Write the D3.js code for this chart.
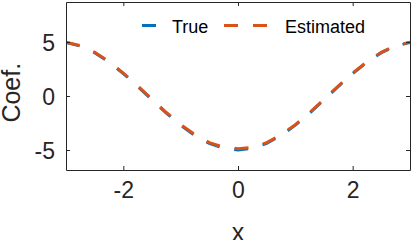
<!DOCTYPE html>
<html>
<head>
<meta charset="utf-8">
<script src="https://cdn.jsdelivr.net/npm/d3@7"></script>
<style>
  body { margin: 0; background: #fff; }
  svg { display: block; font-family: "Liberation Sans", Arial, sans-serif; }
</style>
</head>
<body>
<svg id="chart" width="415" height="240"></svg>
<script>
// data
var xVals = [-3, -2.75, -2.5, -2.25, -2, -1.75, -1.5, -1.25, -1, -0.75, -0.5, -0.25, 0,
             0.25, 0.5, 0.75, 1, 1.25, 1.5, 1.75, 2, 2.25, 2.5, 2.75, 3];
var trueVals = [4.95, 4.62, 4.01, 3.14, 2.08, 0.89, -0.35, -1.58, -2.70, -3.66, -4.39, -4.84, -5.0,
                -4.84, -4.39, -3.66, -2.70, -1.58, -0.35, 0.89, 2.08, 3.14, 4.01, 4.62, 4.95];
var estVals = [4.97, 4.66, 4.05, 3.18, 2.12, 0.93, -0.30, -1.53, -2.64, -3.59, -4.31, -4.74, -4.88,
               -4.75, -4.32, -3.60, -2.65, -1.54, -0.31, 0.92, 2.11, 3.17, 4.04, 4.65, 4.97];
var xTicks = [-2, 0, 2];
var yTicks = [-5, 0, 5];
var seriesNames = ["True", "Estimated"];
var seriesColors = ["#0072BD", "#D95319"];

var width = 415, height = 240,
    margins = {left: 66, right: 5, top: 2, bottom: 70};

var svg = d3.select("#chart");
var plotW = width - margins.left - margins.right,
    plotH = height - margins.top - margins.bottom;

var xScale = d3.scaleLinear().domain([-3, 3]).range([0, plotW]);
var yScale = d3.scaleLinear().domain([-6.85, 8.7]).range([plotH, 0]);

var g = svg.append("g")
    .attr("transform", "translate(" + margins.left + "," + margins.top + ")");

var line = d3.line()
    .x(d => xScale(d[0]))
    .y(d => yScale(d[1]));

svg.append("clipPath").attr("id", "plotClip")
    .append("rect").attr("width", plotW).attr("height", plotH);

var curves = g.append("g").attr("clip-path", "url(#plotClip)");

curves.append("path")
    .attr("fill", "none")
    .attr("stroke", seriesColors[0])
    .attr("stroke-width", 3)
    .attr("stroke-dasharray", "14,15")
    .attr("d", line(xVals.map((x, i) => [x, trueVals[i]])));

curves.append("path")
    .attr("fill", "none")
    .attr("stroke", seriesColors[1])
    .attr("stroke-width", 3)
    .attr("stroke-dasharray", "14,15")
    .attr("d", line(xVals.map((x, i) => [x, estVals[i]])));

// axes, matlab box style with inward ticks
var axisColor = "#262626";
var fmt = d => String(d);
var axes = [
    g.append("g").call(d3.axisBottom(xScale).tickValues(xTicks).tickSizeInner(-4).tickSizeOuter(0).tickFormat(fmt))
        .attr("transform", "translate(0," + plotH + ")"),
    g.append("g").call(d3.axisTop(xScale).tickValues(xTicks).tickSizeInner(-4).tickSizeOuter(0).tickFormat("")),
    g.append("g").call(d3.axisLeft(yScale).tickValues(yTicks).tickSizeInner(-4).tickSizeOuter(0).tickFormat(fmt)),
    g.append("g").call(d3.axisRight(yScale).tickValues(yTicks).tickSizeInner(-4).tickSizeOuter(0).tickFormat(""))
        .attr("transform", "translate(" + plotW + ",0)")
];
axes.forEach(function(a) {
    a.selectAll("path, line").attr("stroke", axisColor).attr("stroke-width", 1);
    a.selectAll("text").attr("fill", "#262626").style("font-size", "23px")
        .style("font-family", "Liberation Sans, Arial, sans-serif");
});
axes[0].selectAll(".tick text").attr("y", 12).attr("dy", "0.71em");
axes[2].selectAll(".tick text").attr("x", -11).attr("dy", "0.36em");

// axis labels
svg.append("text")
    .attr("text-anchor", "middle")
    .attr("fill", "#262626")
    .style("font-size", "25px")
    .attr("x", margins.left + plotW / 2)
    .attr("y", 241)
    .text("x");

svg.append("text")
    .attr("text-anchor", "middle")
    .attr("fill", "#262626")
    .style("font-size", "25px")
    .attr("transform", "translate(20," + (margins.top + plotH * 0.54) + ") rotate(-90)")
    .text("Coef.");

// legend, no box
var legend = svg.append("g");
var legendItems = [
    {name: seriesNames[0], color: seriesColors[0], x1: 142, x2: 156, tx: 172},
    {name: seriesNames[1], color: seriesColors[1], x1: 224, x2: 268, tx: 285}
];
legendItems.forEach(function(d) {
    legend.append("line")
        .attr("x1", d.x1).attr("x2", d.x2)
        .attr("y1", 25.5).attr("y2", 25.5)
        .attr("stroke", d.color)
        .attr("stroke-width", 3)
        .attr("stroke-dasharray", "14,15");
    legend.append("text")
        .attr("x", d.tx).attr("y", 32.5)
        .attr("fill", "#000")
        .style("font-size", "18px")
        .text(d.name);
});
</script>
</body>
</html>
